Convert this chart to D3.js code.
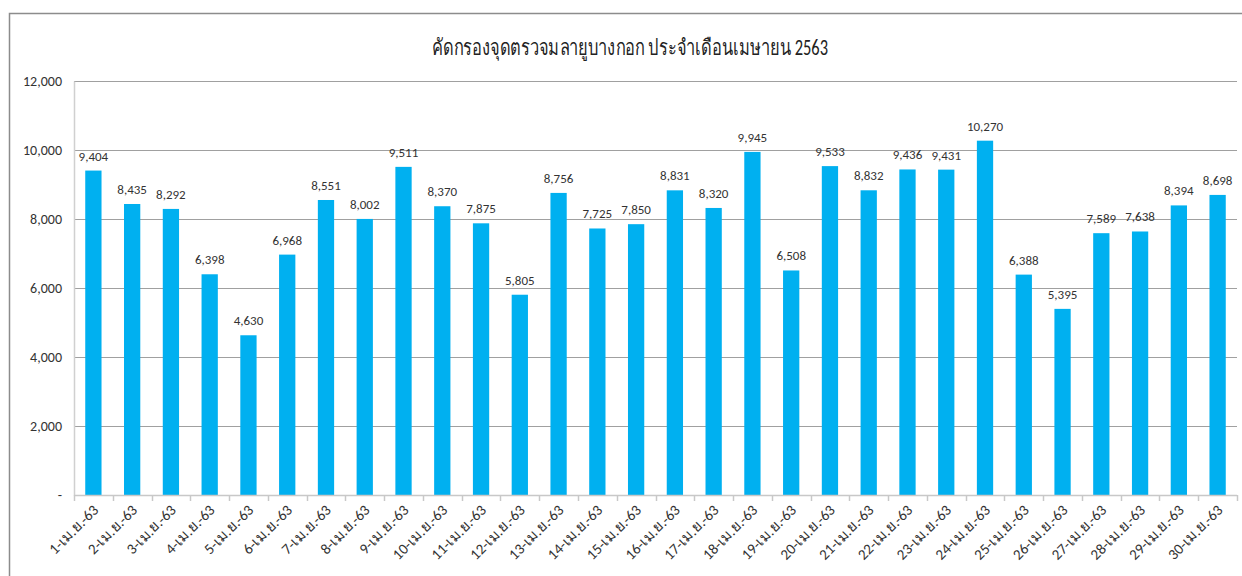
<!DOCTYPE html>
<html>
<head>
<meta charset="utf-8">
<script src="https://cdn.jsdelivr.net/npm/d3@7"></script>
<style>
  body { margin: 0; background: #fff; }
  text { font-family: Carlito, Calibri, "Open Sans", "Noto Sans", sans-serif; }
</style>
</head>
<body>
<svg id="chart" width="1242" height="576"></svg>
<script>
var titleText = "คัดกรองจุดตรวจมลายูบางกอก ประจำเดือนเมษายน 2563";
var days = d3.range(1, 31);
var labels = days.map(function(d) { return d + "-เม.ย.-63"; });
var screened = [9404, 8435, 8292, 6398, 4630, 6968, 8551, 8002, 9511, 8370,
                7875, 5805, 8756, 7725, 7850, 8831, 8320, 9945, 6508, 9533,
                8832, 9436, 9431, 10270, 6388, 5395, 7589, 7638, 8394, 8698];
var yTicks = [0, 2000, 4000, 6000, 8000, 10000, 12000];

var margin = {top: 81, right: 5, bottom: 81, left: 74},
    width = 1242 - margin.left - margin.right,
    height = 576 - margin.top - margin.bottom;

var svg = d3.select("#chart");

// chart frame
svg.append("path")
    .attr("d", "M9.5,576 V13.5 H1242")
    .attr("fill", "none")
    .attr("stroke", "#8c8c8c")
    .attr("stroke-width", 1.5);

svg.append("text")
    .attr("x", 630)
    .attr("y", 55)
    .attr("text-anchor", "middle")
    .attr("font-size", 22)
    .attr("textLength", 396)
    .attr("lengthAdjust", "spacingAndGlyphs")
    .attr("fill", "#222")
    .text(titleText);

var g = svg.append("g")
    .attr("transform", "translate(" + margin.left + "," + margin.top + ")");

var x = d3.scaleBand()
    .domain(labels)
    .range([0, width]);

var y = d3.scaleLinear()
    .domain([0, 12000])
    .range([height, 0]);

// grid lines
g.append("g")
    .selectAll("line")
    .data(yTicks.slice(1))
    .enter().append("line")
    .attr("x1", 0)
    .attr("x2", width)
    .attr("y1", function(d) { return Math.round(y(d)) + 0.5; })
    .attr("y2", function(d) { return Math.round(y(d)) + 0.5; })
    .attr("stroke", "#a0a0a0")
    .attr("stroke-width", 1);

// y axis
var yAxis = g.append("g")
    .call(d3.axisLeft(y)
        .tickValues(yTicks)
        .tickSize(0)
        .tickPadding(12)
        .tickFormat(function(d) { return d === 0 ? "-      " : d3.format(",")(d); }));
yAxis.select(".domain").attr("stroke", "#d0d0d0").attr("stroke-width", 1.5);
yAxis.selectAll("text")
    .attr("font-size", 14)
    .attr("fill", "#333")
    .style("font-family", "Carlito, Calibri, 'Open Sans', sans-serif");

// bars
var barW = x.bandwidth() * 0.42;
g.append("g")
    .attr("fill", "#00b0f0")
    .selectAll("rect")
    .data(screened)
    .enter().append("rect")
    .attr("x", function(d, i) { return x(labels[i]) + (x.bandwidth() - barW) / 2; })
    .attr("width", barW)
    .attr("y", function(d) { return y(d); })
    .attr("height", function(d) { return height - y(d); });

// value labels
g.append("g")
    .selectAll("text")
    .data(screened)
    .enter().append("text")
    .attr("x", function(d, i) { return x(labels[i]) + x.bandwidth() / 2; })
    .attr("y", function(d) { return y(d) - 10; })
    .attr("text-anchor", "middle")
    .attr("font-size", 13)
    .attr("fill", "#333")
    .text(function(d) { return d3.format(",")(d); });

// x axis ticks at band edges
var xg = g.append("g")
    .attr("transform", "translate(0," + height + ")");
xg.append("line")
    .attr("x1", 0).attr("x2", width)
    .attr("y1", 0.5).attr("y2", 0.5)
    .attr("stroke", "#c8c8c8")
    .attr("stroke-width", 1.5);
xg.selectAll(".edge")
    .data(labels.concat(["end"]))
    .enter().append("line")
    .attr("class", "edge")
    .attr("x1", function(d, i) { return Math.round(i * x.step()) + 0.5; })
    .attr("x2", function(d, i) { return Math.round(i * x.step()) + 0.5; })
    .attr("y1", 0)
    .attr("y2", 6)
    .attr("stroke", "#c8c8c8")
    .attr("stroke-width", 1.5);

xg.selectAll(".lbl")
    .data(labels)
    .enter().append("text")
    .attr("class", "lbl")
    .attr("font-size", 15)
    .attr("fill", "#333")
    .attr("text-anchor", "end")
    .attr("transform", function(d) {
        return "translate(" + (x(d) + x.bandwidth() / 2 + 6) + ",16) rotate(-45)";
    })
    .text(function(d) { return d; });
</script>
</body>
</html>
